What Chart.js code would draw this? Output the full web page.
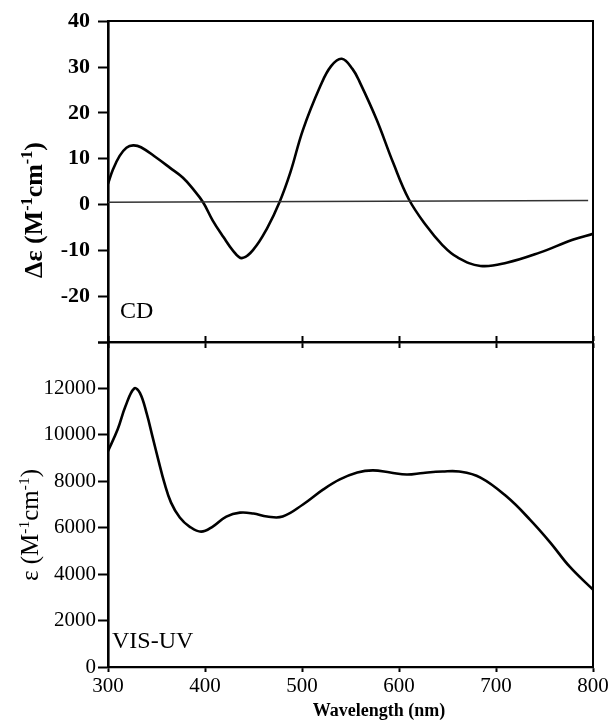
<!DOCTYPE html>
<html lang="en">
<head>
<meta charset="utf-8">
<title>CD et VIS-UV</title>
<script src="https://cdn.jsdelivr.net/npm/chart.js@4.4.1/dist/chart.umd.min.js"></script>
<style>
  body { margin: 0; background: #fff; }
  #cadre { position: relative; width: 615px; height: 721px; }
  #cadre canvas { position: absolute; left: 0; top: 0; }
</style>
</head>
<body>
<div id="cadre">
  <canvas id="graphCD" width="615" height="721"></canvas>
  <canvas id="graphUV" width="615" height="721"></canvas>
</div>
<script>
// Valeurs (longueur d'onde en nm)
const longueursCD = [300, 305, 312, 319, 326, 334, 350, 364, 377, 388, 398, 408, 419, 429, 438, 450, 464, 477, 488, 501, 519, 530, 541, 552, 560, 577, 594, 610, 628, 645, 660, 684, 711, 745, 779, 800];
const valeursCD = [4.5, 7.6, 10.6, 12.4, 12.9, 12.5, 10.2, 8.0, 5.9, 3.3, 0.5, -3.5, -7.1, -10.1, -11.7, -9.8, -5.2, 0.6, 7.0, 16.3, 25.9, 30.2, 31.8, 29.6, 26.5, 18.5, 9.1, 1.2, -4.6, -8.9, -11.5, -13.4, -12.7, -10.5, -7.7, -6.4];

const longueursUV = [300, 310, 318, 327, 333, 340, 346, 352, 358, 365, 374, 384, 396, 408, 422, 436, 450, 464, 480, 501, 522, 539, 557, 573, 591, 608, 625, 645, 662, 684, 711, 735, 756, 776, 800];
const valeursUV = [9300, 10240, 11230, 12000, 11800, 10900, 9900, 8900, 7950, 7080, 6440, 6050, 5830, 6050, 6480, 6650, 6610, 6480, 6480, 7000, 7650, 8080, 8380, 8470, 8380, 8290, 8360, 8420, 8420, 8160, 7340, 6350, 5360, 4320, 3330];

// Ligne de base du spectre CD
const zeroX = [300, 795];
const zeroY = [0.5, 0.9];

// Graduations affichées
const ticksX = [300, 400, 500, 600, 700, 800];
const ticksCD = [40, 30, 20, 10, 0, -10, -20];
const ticksUV = [0, 2000, 4000, 6000, 8000, 10000, 12000];

// Emplacement des deux zones de tracé dans la fenêtre
const GAUCHE = 108, DROITE = 593, HAUT = 20, MILIEU = 342, BAS = 667;
const LARGEUR = 615, HAUTEUR = 721;
const POLICE = '"Liberation Serif", "Times New Roman", serif';

Chart.defaults.font.family = POLICE;
Chart.defaults.color = 'black';


function enPoints(xs, ys) {
    return xs.map((x, i) => ({ x: x, y: ys[i] }));
}


function ecrireTitreVertical(ctx, morceaux, cx, cy, taille, gras) {
    /**
     * Écrit un titre tourné de 90° avec exposants (M-1 cm-1)
     * @param {Object[]} morceaux - {t: texte, sup: true si exposant}
     */
    const police = (t) => (gras ? 'bold ' : '') + t + 'px ' + POLICE;
    const tailleSup = taille * 0.62;
    let total = 0;
    morceaux.forEach(m => {
        ctx.font = police(m.sup ? tailleSup : taille);
        total += ctx.measureText(m.t).width;
    });
    ctx.save();
    ctx.translate(cx, cy);
    ctx.rotate(-Math.PI / 2);
    ctx.fillStyle = 'black';
    ctx.textBaseline = 'alphabetic';
    let x = -total / 2;
    morceaux.forEach(m => {
        ctx.font = police(m.sup ? tailleSup : taille);
        ctx.fillText(m.t, x, m.sup ? -taille * 0.05 : taille * 0.33);
        x += ctx.measureText(m.t).width;
    });
    ctx.restore();
}


function bordure(largeur) {
    return { display: true, color: 'black', width: largeur };
}


function axeCache(position, min, max, taille) {
    // Axe sans graduation : sert seulement à fermer le cadre
    return {
        type: 'linear', position: position, min: min, max: max,
        ticks: { display: false },
        grid: { display: false },
        border: bordure(2),
        afterFit: s => {
            if (s.isHorizontal()) s.height = taille; else s.width = taille;
        },
    };
}


const optionsCommunes = {
    responsive: false,
    animation: false,
    plugins: { legend: { display: false }, tooltip: { enabled: false } },
    layout: { padding: 0 },
    elements: { point: { radius: 0 } },
};


// Panneau du haut : dichroïsme circulaire
new Chart(document.getElementById('graphCD'), {
    type: 'line',
    data: {
        datasets: [
            {
                data: enPoints(zeroX, zeroY),
                borderColor: '#333',
                borderWidth: 1.5,
            },
            {
                data: enPoints(longueursCD, valeursCD),
                borderColor: 'black',
                borderWidth: 2.6,
                tension: 0.4,
            },
        ],
    },
    options: {
        ...optionsCommunes,
        scales: {
            x: {
                type: 'linear', position: 'bottom', min: 300, max: 800,
                ticks: { display: false, stepSize: 100 },
                grid: { drawOnChartArea: false, tickLength: 6, color: 'black', tickWidth: 2 },
                border: bordure(2.2),
                afterFit: s => { s.height = HAUTEUR - MILIEU; },
            },
            xHaut: axeCache('top', 300, 800, HAUT),
            y: {
                type: 'linear', min: -30, max: 40,
                ticks: {
                    stepSize: 10,
                    padding: 8,
                    font: { size: 22, weight: 'bold' },
                    callback: v => ticksCD.includes(v) ? String(v) : '',
                },
                grid: { drawOnChartArea: false, tickLength: 10, color: 'black', tickWidth: 2 },
                border: bordure(2.6),
                afterFit: s => { s.width = GAUCHE; },
            },
            yDroite: axeCache('right', -30, 40, LARGEUR - DROITE),
        },
    },
    plugins: [{
        id: 'textesCD',
        afterDraw(chart) {
            const ctx = chart.ctx;
            const zone = chart.chartArea;
            ecrireTitreVertical(ctx, [
                { t: '\u0394\u03b5 (M' }, { t: '-1', sup: true }, { t: 'cm' }, { t: '-1', sup: true }, { t: ')' },
            ], 33, 210, 26, true);
            ctx.save();
            ctx.font = '24px ' + POLICE;
            ctx.fillStyle = 'black';
            ctx.fillText('CD', zone.left + 12, zone.bottom - 24);
            ctx.restore();
        },
    }],
});


// Panneau du bas : absorption VIS-UV
new Chart(document.getElementById('graphUV'), {
    type: 'line',
    data: {
        datasets: [{
            data: enPoints(longueursUV, valeursUV),
            borderColor: 'black',
            borderWidth: 2.6,
            tension: 0.4,
        }],
    },
    options: {
        ...optionsCommunes,
        scales: {
            x: {
                type: 'linear', position: 'bottom', min: 300, max: 800,
                ticks: {
                    stepSize: 100,
                    padding: 2,
                    maxRotation: 0,
                    font: { size: 21 },
                    callback: v => ticksX.includes(v) ? String(v) : '',
                },
                grid: { drawOnChartArea: false, tickLength: 5, color: 'black', tickWidth: 2 },
                border: bordure(2.2),
                afterFit: s => { s.height = HAUTEUR - BAS; },
            },
            xHaut: {
                type: 'linear', position: 'top', min: 300, max: 800,
                ticks: { display: false, stepSize: 100 },
                grid: { drawOnChartArea: false, tickLength: 6, color: 'black', tickWidth: 2 },
                border: bordure(2.2),
                afterFit: s => { s.height = MILIEU; },
            },
            y: {
                type: 'linear', min: 0, max: 14000,
                ticks: {
                    stepSize: 2000,
                    padding: 2,
                    font: { size: 21 },
                    callback: v => ticksUV.includes(v) ? String(v) : '',
                },
                grid: { drawOnChartArea: false, tickLength: 10, color: 'black', tickWidth: 2 },
                border: bordure(2.6),
                afterFit: s => { s.width = GAUCHE; },
            },
            yDroite: axeCache('right', 0, 14000, LARGEUR - DROITE),
        },
    },
    plugins: [{
        id: 'textesUV',
        afterDraw(chart) {
            const ctx = chart.ctx;
            const zone = chart.chartArea;
            ecrireTitreVertical(ctx, [
                { t: '\u03b5 (M' }, { t: '-1', sup: true }, { t: 'cm' }, { t: '-1', sup: true }, { t: ')' },
            ], 30, 525, 25, false);
            ctx.save();
            ctx.fillStyle = 'black';
            ctx.font = '24px ' + POLICE;
            ctx.fillText('VIS-UV', zone.left + 4, zone.bottom - 19);
            ctx.font = 'bold 18px ' + POLICE;
            ctx.textAlign = 'center';
            ctx.fillText('Wavelength (nm)', 379, 716);
            ctx.restore();
        },
    }],
});
</script>
</body>
</html>
